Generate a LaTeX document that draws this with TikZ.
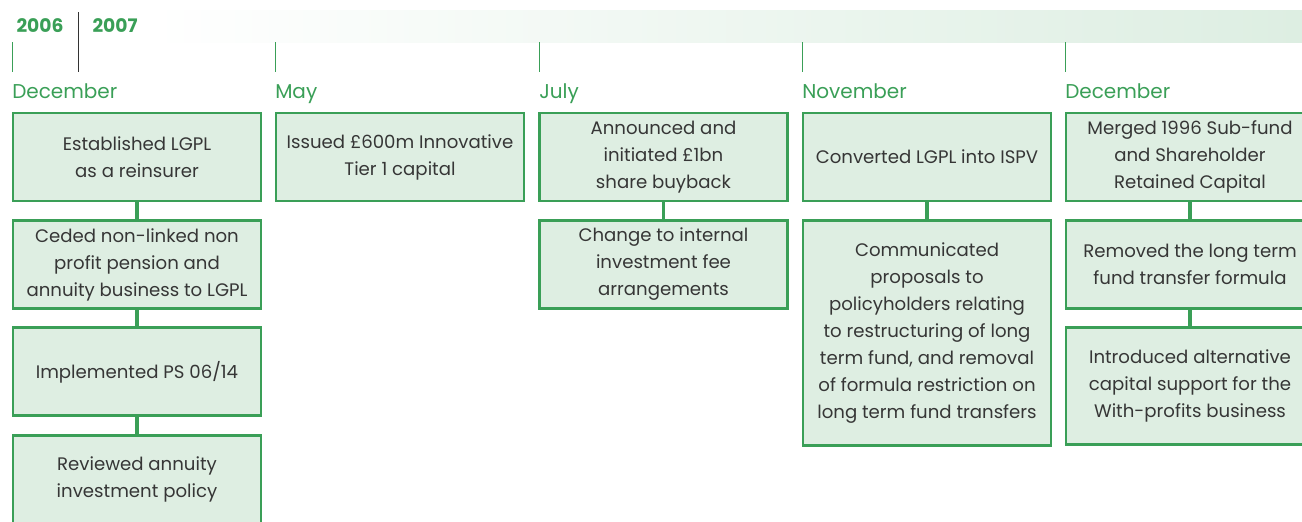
\documentclass[tikz,border=0pt]{standalone}
\usepackage{fontspec}
\setmainfont{Poppins}
\usetikzlibrary{positioning}
\definecolor{lggreen}{HTML}{3A9F57}
\definecolor{lgfill}{HTML}{DEEEE2}
\definecolor{lgband}{HTML}{DDEEE2}
\definecolor{lgtext}{HTML}{363636}
\tikzset{
  event/.style={draw=lggreen, line width=2.2pt, fill=lgfill, text=lgtext,
    minimum width=186pt, minimum height=66pt, inner sep=0pt,
    align=center, font=\fontsize{13.6}{20.25}\selectfont},
  month/.style={anchor=base west, inner sep=0pt, text=lggreen,
    font=\fontsize{15}{17}\selectfont},
  year/.style={inner sep=0pt, text=lggreen, font=\fontsize{14}{16}\selectfont\bfseries},
  link/.style={draw=lggreen, line width=2.4pt},
  node distance=12.4pt
}
\begin{document}
\begin{tikzpicture}[x=0.75pt,y=-0.75pt]
    \useasboundingbox (0,0) rectangle (1302,521);
    \clip (0,0) rectangle (1302,521);
    \shade[left color=white, right color=lgband] (150,10) rectangle (1302,42);
    \node[year] (y2006) at (40,26) {2006};
    \node[year] (y2007) at (115,26) {2007};
    \draw[black!80] (78,12) -- (78,72);
    \foreach \x/\m [count=\i] in {12/December,275/May,539/July,802/November,1065/December} {
        \draw[lggreen] (\x,42) -- (\x,72);
        \node[month] (m\i) at (\x,98) {\m};
    }
    \node[event] (dec1) at (137,157) {Established LGPL\\as a reinsurer};
    \node[event, below=of dec1] (dec2) {Ceded non-linked non\\profit pension and\\annuity business to LGPL};
    \node[event, below=of dec2] (dec3) {Implemented PS 06/14};
    \node[event, below=of dec3] (dec4) {Reviewed annuity\\investment policy};
    \node[event] (may1) at (400,157) {Issued £600m Innovative\\Tier 1 capital};
    \node[event] (jul1) at (663.5,157) {Announced and\\initiated £1bn\\share buyback};
    \node[event, below=of jul1] (jul2) {Change to internal\\investment fee\\arrangements};
    \node[event] (nov1) at (927,157) {Converted LGPL into ISPV};
    \node[event, below=of nov1, minimum height=168.75pt] (nov2) {Communicated\\proposals to\\policyholders relating\\to restructuring of long\\term fund, and removal\\of formula restriction on\\long term fund transfers};
    \node[event] (mrg1) at (1190,157) {Merged 1996 Sub-fund\\and Shareholder\\Retained Capital};
    \node[event, below=of mrg1] (mrg2) {Removed the long term\\fund transfer formula};
    \node[event, below=of mrg2, minimum height=87.75pt] (mrg3) {Introduced alternative\\capital support for the\\With-profits business};
    \draw[link] (dec1) -- (dec2);
    \draw[link] (dec2) -- (dec3);
    \draw[link] (dec3) -- (dec4);
    \draw[link] (jul1) -- (jul2);
    \draw[link] (nov1) -- (nov2);
    \draw[link] (mrg1) -- (mrg2);
    \draw[link] (mrg2) -- (mrg3);
\end{tikzpicture}
\end{document}
